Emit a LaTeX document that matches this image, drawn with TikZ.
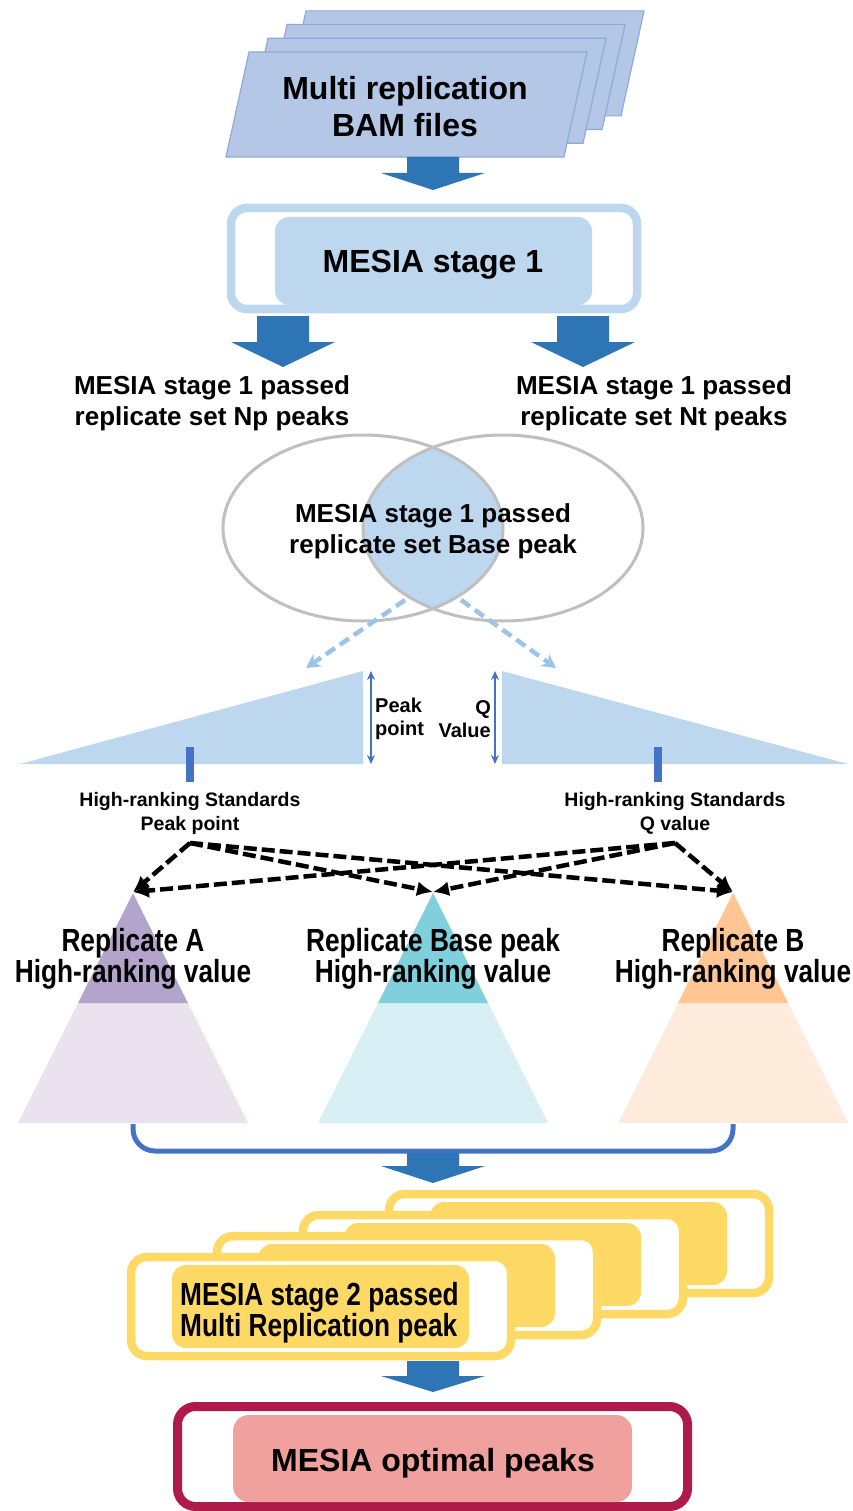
\documentclass[tikz,border=0pt]{standalone}
\usepackage{fontspec}
\setmainfont{Liberation Sans}
\newfontfamily\narrowfont[FakeStretch=0.82]{Liberation Sans}
\usetikzlibrary{positioning, arrows.meta, calc}

\definecolor{parafill}{HTML}{B4C7E7}
\definecolor{paradraw}{HTML}{8EA9DB}
\definecolor{ltblue}{HTML}{BDD7EE}
\definecolor{arrowblue}{HTML}{2E75B6}
\definecolor{venngray}{HTML}{BFBFBF}
\definecolor{dashblue}{HTML}{9DC3E6}
\definecolor{midblue}{HTML}{4472C4}
\definecolor{purpD}{HTML}{B4A3CB}
\definecolor{purpL}{HTML}{EAE2EE}
\definecolor{tealD}{HTML}{7FCFDD}
\definecolor{tealL}{HTML}{D7EFF5}
\definecolor{peachD}{HTML}{FFC593}
\definecolor{peachL}{HTML}{FDEBDB}
\definecolor{yel}{HTML}{FFD966}
\definecolor{crimson}{HTML}{AF1A4B}
\definecolor{pinkfill}{HTML}{F0A09D}

% block arrow: x, top of shaft, base of head, tip
\newcommand{\blkarrow}[4]{%
  \fill[arrowblue] ({#1-26},#2) -- ({#1+26},#2) -- ({#1+26},#3) -- ({#1+52},#3)
    -- (#1,#4) -- ({#1-52},#3) -- ({#1-26},#3) -- cycle;}

\begin{document}
\begin{tikzpicture}[x=1pt, y=-1pt,
    bigtxt/.style={font=\fontsize{32}{37}\selectfont\bfseries, align=center, inner sep=0pt},
    midtxt/.style={font=\fontsize{26}{31}\selectfont\bfseries, align=center, inner sep=0pt},
    smalltxt/.style={font=\fontsize{19.5}{24}\selectfont\bfseries, align=center, inner sep=0pt},
    narrowtxt/.style={font=\narrowfont\fontsize{32}{31}\selectfont\bfseries, align=center, inner sep=0pt},
    para/.style={fill=parafill, draw=paradraw, line width=1.2},
    frameout/.style={line width=8.5, rounded corners=16},
    framein/.style={rounded corners=14},
    venn/.style={draw=venngray, line width=3},
    lightdash/.style={draw=dashblue, line width=4.5, dash pattern=on 11pt off 6pt,
                      -{Stealth[length=14pt, width=15pt]}},
    blackdash/.style={draw=black, line width=4.5, dash pattern=on 13pt off 5pt,
                      -{Latex[length=16pt, width=15pt]}},
    rangebar/.style={draw=midblue, line width=1.5,
                  {Stealth[length=9pt, width=8pt]}-{Stealth[length=9pt, width=8pt]}},
    bracket/.style={draw=midblue, line width=5, rounded corners=22},
  ]
  \useasboundingbox (0,0) rectangle (853,1511);

  % BAM file stack
  \foreach \k in {3,2,1,0}
    \filldraw[para, shift={({19*\k},{-13.7*\k})}]
      (249,52) -- (587,52) -- (564,157) -- (226,157) -- cycle;
  \node[bigtxt] (bam) at (405,107) {Multi replication\\BAM files};
  \blkarrow{433}{157}{173}{190}

  % stage 1
  \draw[frameout, draw=ltblue] (231,208) rectangle (637,309);
  \fill[framein, ltblue] (275,217) rectangle (592,305);
  \node[bigtxt] (s1) at (433,265) {MESIA stage 1};
  \blkarrow{283}{316}{342}{367}
  \blkarrow{583}{316}{342}{367}

  \node[midtxt] (np) at (212,403) {MESIA stage 1 passed\\replicate set Np peaks};
  \node[midtxt] (nt) at (654,403) {MESIA stage 1 passed\\replicate set Nt peaks};

  % venn
  \begin{scope}
    \clip (363,528) ellipse [x radius=140pt, y radius=93pt];
    \fill[ltblue] (503,528) ellipse [x radius=140pt, y radius=93pt];
  \end{scope}
  \draw[venn] (363,528) ellipse [x radius=140pt, y radius=93pt];
  \draw[venn] (503,528) ellipse [x radius=140pt, y radius=93pt];
  \node[midtxt] (base) at (433,531) {MESIA stage 1 passed\\replicate set Base peak};

  \coordinate (vL) at (405,600);
  \coordinate (vR) at (461,600);
  \coordinate (rkL) at (306,668);
  \coordinate (rkR) at (556,668);
  \draw[lightdash] (vL) -- (rkL);
  \draw[lightdash] (vR) -- (rkR);

  % ranking wedges
  \fill[ltblue] (20,764) -- (363,671) -- (363,764) -- cycle;
  \fill[ltblue] (502,671) -- (848,764) -- (502,764) -- cycle;
  \coordinate (pkTop) at (371,671);
  \coordinate (pkBot) at (371,764);
  \coordinate (qTop) at (495,671);
  \coordinate (qBot) at (495,764);
  \draw[rangebar] (pkTop) -- (pkBot);
  \draw[rangebar] (qTop) -- (qBot);
  \node[smalltxt, align=left, anchor=west, font=\fontsize{20}{23}\selectfont\bfseries]
    (pklbl) at (375,719) {Peak\\point};
  \node[smalltxt, align=right, anchor=east, font=\fontsize{20}{23}\selectfont\bfseries]
    (qlbl) at (491,719) {Q\\Value};

  \fill[midblue] (186,747) rectangle (194,782);
  \fill[midblue] (654,747) rectangle (662,782);
  \node[smalltxt] (stdL) at (190,813) {High-ranking Standards\\Peak point};
  \node[smalltxt] (stdR) at (675,813) {High-ranking Standards\\Q value};

  % replicate triangles
  \foreach \cx/\dk/\lt/\nm/\lbl in {133/purpD/purpL/A/{Replicate A},
      433/tealD/tealL/Base/{Replicate Base peak}, 733/peachD/peachL/B/{Replicate B}} {
    \fill[\lt] ({\cx-55},1003) -- ({\cx+55},1003) -- ({\cx+115},1123) -- ({\cx-115},1123) -- cycle;
    \fill[\dk] (\cx,893) -- ({\cx+55},1003) -- ({\cx-55},1003) -- cycle;
    \coordinate (ap\nm) at (\cx,892);
    \coordinate (ft\nm) at (\cx,1124);
    \node[narrowtxt] (rep\nm) at (\cx,959) {\lbl\\High-ranking value};
  }

  \coordinate (oL) at (190,843);
  \coordinate (oR) at (675,843);
  \foreach \o in {oL, oR}
    \foreach \t in {apA, apBase, apB}
      \draw[blackdash] (\o) -- (\t);

  \draw[bracket] (ftA) -- (133,1151) -- (733,1151) -- (ftB);
  \blkarrow{433}{1153}{1166}{1183}

  % stage 2 stack
  \foreach \k in {3,2,1,0} {
    \begin{scope}[shift={({86*\k},{-21*\k})}]
      \filldraw[frameout, draw=yel, fill=white] (131,1257) rectangle (511,1356);
      \fill[framein, yel] (172,1265) rectangle (469,1348);
    \end{scope}
  }
  \node[narrowtxt, align=left, anchor=west] (s2) at (180,1313)
    {MESIA stage 2 passed\\Multi Replication peak};
  \blkarrow{433}{1361}{1376}{1392}

  % optimal peaks
  \draw[frameout, line width=9, draw=crimson, rounded corners=18] (177.5,1406.5) rectangle (687.5,1506.5);
  \fill[framein, pinkfill, rounded corners=16] (233,1415) rectangle (632,1502);
  \node[bigtxt] (opt) at (433,1463) {MESIA optimal peaks};
\end{tikzpicture}
\end{document}
